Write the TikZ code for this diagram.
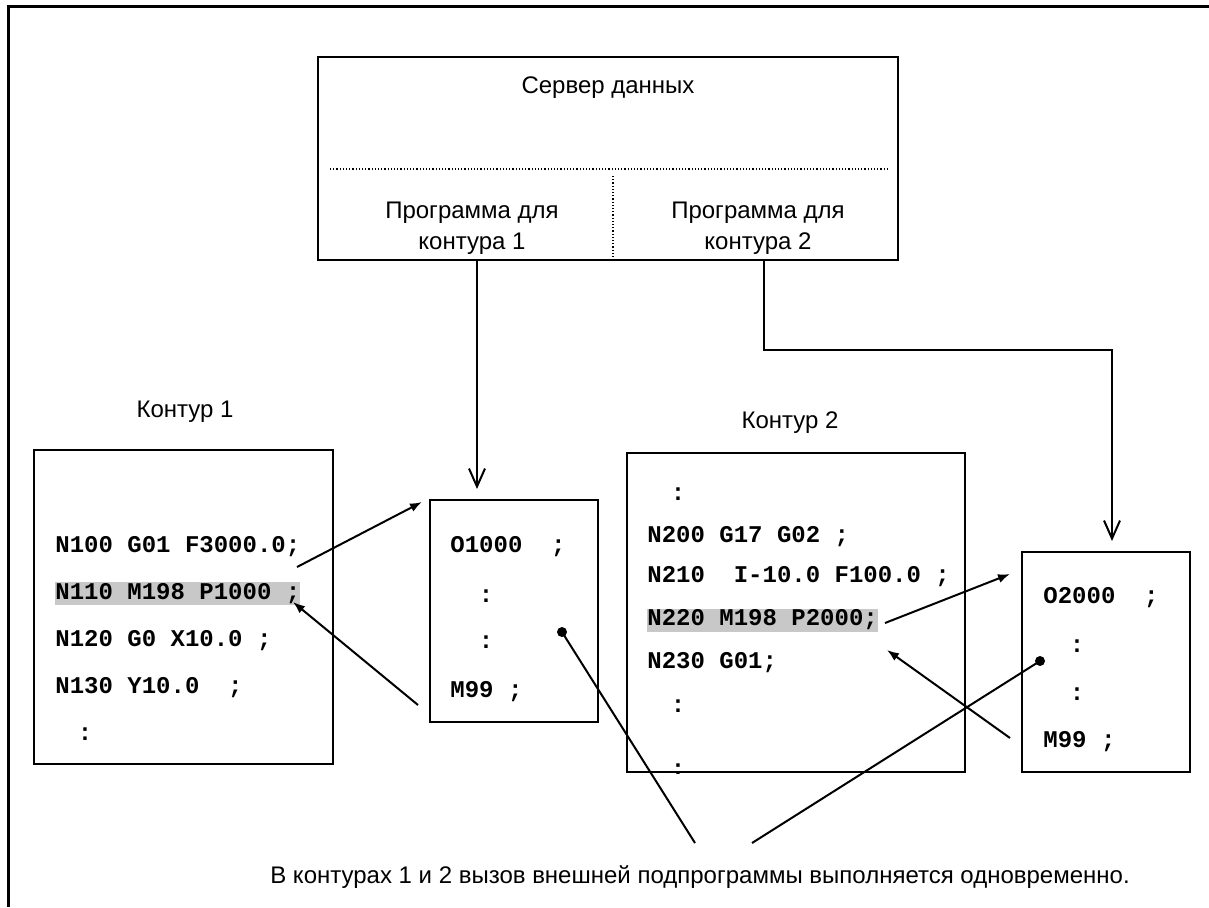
\documentclass[tikz,border=0pt]{standalone}
\usepackage{fontspec}
\setmainfont{Liberation Sans}
\setmonofont{Liberation Mono}
\usepackage{tikz}
\usetikzlibrary{arrows.meta}

\definecolor{hlgray}{RGB}{200,200,200}

\tikzset{
  box/.style={draw, line width=1pt, inner sep=0pt},
  label/.style={font=\fontsize{12}{15.5}\selectfont, align=center, inner sep=0pt},
  code/.style={font=\fontsize{12}{14}\selectfont\ttfamily\bfseries, anchor=west,
    inner sep=0pt, text height=8.5pt, text depth=3pt},
  colon/.style={code, anchor=center},
  divider/.style={densely dotted, line width=0.6pt},
  feed/.style={line width=1pt, -{Straight Barb[length=9pt,width=8pt]}},
  link/.style={line width=1pt, -{Latex[length=6pt,width=4.5pt]}},
  pointer/.style={line width=1pt},
}

\begin{document}
\begin{tikzpicture}[x=0.5pt,y=-0.5pt]
\useasboundingbox (0,0) rectangle (1209,907);

% Frame
\draw[line width=1.5pt] (1209,6) -- (8,6) -- (8,907);

% Data server with its two program slots
\node[box, minimum width=290pt, minimum height=101.5pt] (srv) at (608,158.5) {};
\node[label] (srvname) at (608,88) {Сервер данных};
\draw[divider] (330,169) -- (888,169);
\draw[divider] (613,176) -- (613,257);
\node[label] (prog1) at (472,228) {Программа для\\контура 1};
\node[label] (prog2) at (758,228) {Программа для\\контура 2};

% Path 1 program
\node[label] (ctr1name) at (185,412) {Контур 1};
\node[box, minimum width=149.5pt, minimum height=157pt] (ctr1) at (183.5,607) {};
\node[code] (n100) at (55,547) {N100 G01 F3000.0;};
\node[code, fill=hlgray] (n110) at (55,593.5) {N110 M198 P1000 ;};
\node[code] (n120) at (55,641) {N120 G0 X10.0 ;};
\node[code] (n130) at (55,688) {N130 Y10.0\ \ ;};
\node[colon] (c1end) at (85,735) {:};

% Subprogram O1000
\node[box, minimum width=84pt, minimum height=111pt] (sub1) at (514,611) {};
\node[code] (o1000) at (450,547) {O1000\ \ ;};
\node[colon] (s1a) at (486,597) {:};
\node[colon] (s1b) at (486,643) {:};
\node[code] (m99a) at (450,692) {M99 ;};

% Path 2 program
\node[label] (ctr2name) at (790,423) {Контур 2};
\node[box, minimum width=169pt, minimum height=159.5pt] (ctr2) at (796,612.5) {};
\node[colon] (c2top) at (678,495) {:};
\node[code] (n200) at (647,537) {N200 G17 G02 ;};
\node[code] (n210) at (647,577) {N210\ \ I-10.0 F100.0 ;};
\node[code, fill=hlgray] (n220) at (647,620) {N220 M198 P2000;};
\node[code] (n230) at (647,663) {N230 G01;};
\node[colon] (c2a) at (678,707) {:};
\begin{scope}
  \clip (ctr2.south west) rectangle (ctr2.north east);
  \node[code, anchor=base] (c2b) at (678,776) {:};
\end{scope}

% Subprogram O2000
\node[box, minimum width=84pt, minimum height=110pt] (sub2) at (1106,662) {};
\node[code] (o2000) at (1043,598) {O2000\ \ ;};
\node[colon] (s2a) at (1077,647) {:};
\node[colon] (s2b) at (1077,695) {:};
\node[code] (m99b) at (1043,742) {M99 ;};

% Downloads from the server
\coordinate (tap1) at (477,260);
\coordinate (tap2) at (764,260);
\coordinate (turn2) at (1112,350);
\draw[feed, shorten >=5pt] (tap1) -- (tap1 |- sub1.north);
\draw[feed, shorten >=5pt] (tap2) |- (turn2) -- (turn2 |- sub2.north);

% Calls and returns
\coordinate (call1) at (297,567);
\coordinate (entry1) at (422,502);
\coordinate (ret1) at (418,705);
\coordinate (back1) at (293,602);
\draw[link] (call1) -- (entry1);
\draw[link] (ret1) -- (back1);

\coordinate (call2) at (885,623);
\coordinate (entry2) at (1010,574);
\coordinate (ret2) at (1010,738);
\coordinate (back2) at (887,650);
\draw[link] (call2) -- (entry2);
\draw[link] (ret2) -- (back2);

% Note
\node[label] (note) at (700,877)
  {В контурах 1 и 2 вызов внешней подпрограммы выполняется одновременно.};
\coordinate (dot1) at (562,632);
\coordinate (dot2) at (1040,661);
\coordinate (end1) at (695,843);
\coordinate (end2) at (752,843);
\fill (dot1) circle (2.5pt);
\fill (dot2) circle (2.5pt);
\draw[pointer] (dot1) -- (end1);
\draw[pointer] (dot2) -- (end2);

\end{tikzpicture}
\end{document}
